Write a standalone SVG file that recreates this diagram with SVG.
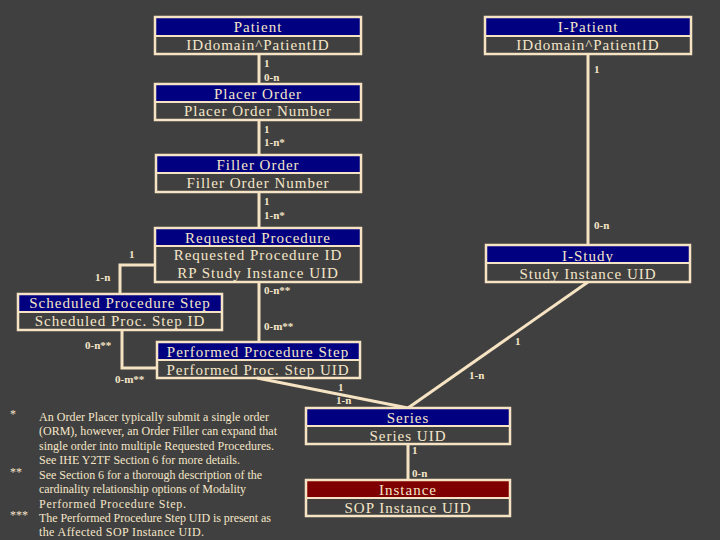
<svg xmlns="http://www.w3.org/2000/svg" width="720" height="540" viewBox="0 0 720 540">
<style>
.bg{fill:#404040}
.box{fill:none;stroke:#f5e3c3;stroke-width:2.5}
.hd{fill:#000080}
.hdr{fill:#7f0000}
.sep{stroke:#f5e3c3;stroke-width:2}
.t{font-family:"Liberation Serif","Times New Roman",serif;font-size:15px;fill:#f5e6c8;text-anchor:middle;letter-spacing:1px}
.c{font-family:"Liberation Serif","Times New Roman",serif;font-size:11px;font-weight:bold;fill:#f5e6c8}
.n{font-family:"Liberation Serif","Times New Roman",serif;font-size:12px;fill:#f5e6c8}
.ln{fill:none;stroke:#f5e3c3;stroke-width:3}
</style>
<rect class="bg" x="0" y="0" width="720" height="540"/>
<g id="connectors">
<line class="ln" x1="259" y1="54" x2="259" y2="84"/>
<line class="ln" x1="259" y1="120" x2="259" y2="155"/>
<line class="ln" x1="259" y1="192" x2="259" y2="228"/>
<line class="ln" x1="259" y1="282" x2="259" y2="342"/>
<polyline class="ln" points="155,265 120,265 120,294"/>
<polyline class="ln" points="122,330 122,368 157,368"/>
<line class="ln" x1="588" y1="54" x2="588" y2="245"/>
<line class="ln" x1="588" y1="282" x2="408" y2="408"/>
<line class="ln" x1="257" y1="378" x2="408" y2="408"/>
<line class="ln" x1="408" y1="444" x2="408" y2="480"/>
<text class="c" x="264" y="67">1</text>
<text class="c" x="264" y="81">0-n</text>
<text class="c" x="594" y="73">1</text>
<text class="c" x="264" y="133">1</text>
<text class="c" x="264" y="146">1-n*</text>
<text class="c" x="264" y="205">1</text>
<text class="c" x="264" y="219">1-n*</text>
<text class="c" x="594" y="229">0-n</text>
<text class="c" x="129" y="258">1</text>
<text class="c" x="95" y="281">1-n</text>
<text class="c" x="264" y="294">0-n**</text>
<text class="c" x="264" y="330">0-m**</text>
<text class="c" x="85" y="349">0-n**</text>
<text class="c" x="115" y="383">0-m**</text>
<text class="c" x="515" y="345">1</text>
<text class="c" x="469" y="379">1-n</text>
<text class="c" x="338" y="391">1</text>
<text class="c" x="336" y="404">1-n</text>
<text class="c" x="412" y="454">1</text>
<text class="c" x="412" y="477">0-n</text>
</g>
<g id="patient">
<rect class="hd" x="155" y="17" width="206" height="19"/>
<rect class="box" x="155" y="17" width="206" height="37"/>
<line class="sep" x1="155" y1="36" x2="361" y2="36"/>
<text class="t" x="258" y="32">Patient</text>
<text class="t" x="258" y="50">IDdomain^PatientID</text>
</g>
<g id="i-patient">
<rect class="hd" x="485" y="17" width="206" height="19"/>
<rect class="box" x="485" y="17" width="206" height="37"/>
<line class="sep" x1="485" y1="36" x2="691" y2="36"/>
<text class="t" x="588" y="32">I-Patient</text>
<text class="t" x="588" y="50">IDdomain^PatientID</text>
</g>
<g id="placer-order">
<rect class="hd" x="155" y="84" width="206" height="18"/>
<rect class="box" x="155" y="84" width="206" height="36"/>
<line class="sep" x1="155" y1="102" x2="361" y2="102"/>
<text class="t" x="258" y="99">Placer Order</text>
<text class="t" x="258" y="116">Placer Order Number</text>
</g>
<g id="filler-order">
<rect class="hd" x="156" y="155" width="205" height="18"/>
<rect class="box" x="156" y="155" width="205" height="37"/>
<line class="sep" x1="156" y1="173" x2="361" y2="173"/>
<text class="t" x="258" y="170">Filler Order</text>
<text class="t" x="258" y="188">Filler Order Number</text>
</g>
<g id="requested-procedure">
<rect class="hd" x="155" y="228" width="206" height="18"/>
<rect class="box" x="155" y="228" width="206" height="54"/>
<line class="sep" x1="155" y1="246" x2="361" y2="246"/>
<text class="t" x="258" y="243">Requested Procedure</text>
<text class="t" x="258" y="260">Requested Procedure ID</text>
<text class="t" x="258" y="278">RP Study Instance UID</text>
</g>
<g id="i-study">
<rect class="hd" x="486" y="245" width="204" height="18"/>
<rect class="box" x="486" y="245" width="204" height="37"/>
<line class="sep" x1="486" y1="263" x2="690" y2="263"/>
<text class="t" x="588" y="261">I-Study</text>
<text class="t" x="588" y="279">Study Instance UID</text>
</g>
<g id="scheduled-procedure-step">
<rect class="hd" x="18" y="294" width="204" height="18"/>
<rect class="box" x="18" y="294" width="204" height="36"/>
<line class="sep" x1="18" y1="312" x2="222" y2="312"/>
<text class="t" x="120" y="308">Scheduled Procedure Step</text>
<text class="t" x="120" y="326">Scheduled Proc. Step ID</text>
</g>
<g id="performed-procedure-step">
<rect class="hd" x="157" y="342" width="203" height="18"/>
<rect class="box" x="157" y="342" width="203" height="36"/>
<line class="sep" x1="157" y1="360" x2="360" y2="360"/>
<text class="t" x="258" y="357">Performed Procedure Step</text>
<text class="t" x="258" y="375">Performed Proc. Step UID</text>
</g>
<g id="series">
<rect class="hd" x="306" y="408" width="204" height="18"/>
<rect class="box" x="306" y="408" width="204" height="36"/>
<line class="sep" x1="306" y1="426" x2="510" y2="426"/>
<text class="t" x="408" y="423">Series</text>
<text class="t" x="408" y="441">Series UID</text>
</g>
<g id="instance">
<rect class="hdr" x="306" y="480" width="204" height="18"/>
<rect class="box" x="306" y="480" width="204" height="36"/>
<line class="sep" x1="306" y1="498" x2="510" y2="498"/>
<text class="t" x="408" y="495">Instance</text>
<text class="t" x="408" y="513">SOP Instance UID</text>
</g>
<g id="notes">
<text class="n" x="10" y="418">*</text>
<text class="n" x="10" y="476">**</text>
<text class="n" x="10" y="519">***</text>
<text class="n" x="39" y="421" textLength="230" lengthAdjust="spacing">An Order Placer  typically submit a single order</text>
<text class="n" x="39" y="435" textLength="238" lengthAdjust="spacing">(ORM), however, an Order Filler can expand that</text>
<text class="n" x="39" y="450" textLength="235" lengthAdjust="spacing">single order into multiple Requested Procedures.</text>
<text class="n" x="39" y="464" textLength="201" lengthAdjust="spacing">See IHE Y2TF Section 6 for more details.</text>
<text class="n" x="39" y="479" textLength="223" lengthAdjust="spacing">See Section 6 for a thorough description of the</text>
<text class="n" x="39" y="493" textLength="207" lengthAdjust="spacing">cardinality relationship options of Modality</text>
<text class="n" x="39" y="508" textLength="147" lengthAdjust="spacing">Performed Procedure Step.</text>
<text class="n" x="39" y="522" textLength="232" lengthAdjust="spacing">The Performed Procedure Step UID is present as</text>
<text class="n" x="39" y="536" textLength="165" lengthAdjust="spacing">the Affected SOP Instance UID.</text>
</g>
</svg>
